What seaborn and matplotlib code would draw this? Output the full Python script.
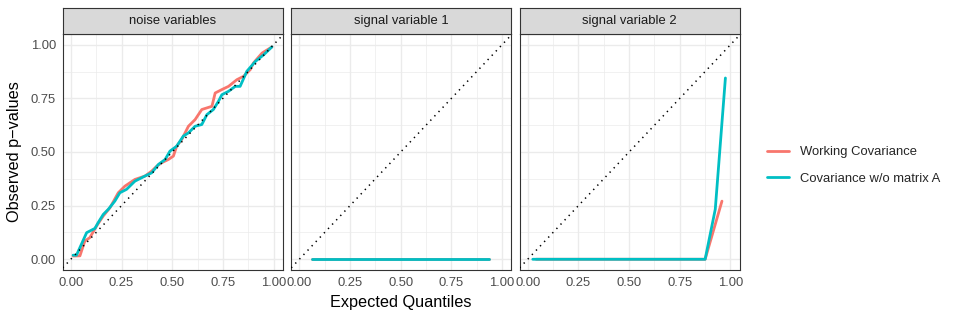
import matplotlib
matplotlib.use("Agg")
import matplotlib.pyplot as plt
from matplotlib.lines import Line2D
import seaborn as sns
import pandas as pd

# ---- data ----
panels = ["noise variables", "signal variable 1", "signal variable 2"]
methods = ["Working Covariance", "Covariance w/o matrix A"]
colors = ["#F8766D", "#00BFC4"]

noise_work_x = [0.011, 0.045, 0.069, 0.094, 0.127, 0.16, 0.193, 0.234, 0.267, 0.316, 0.366,
                0.399, 0.424, 0.448, 0.481, 0.506, 0.522, 0.547, 0.58, 0.613, 0.646, 0.696,
                0.712, 0.745, 0.778, 0.819, 0.852, 0.885, 0.901, 0.943, 0.992]
noise_work_y = [0.015, 0.016, 0.085, 0.101, 0.155, 0.202, 0.240, 0.310, 0.341, 0.372, 0.388,
                0.411, 0.434, 0.450, 0.465, 0.481, 0.527, 0.558, 0.620, 0.651, 0.698, 0.713,
                0.775, 0.791, 0.806, 0.837, 0.853, 0.884, 0.915, 0.961, 0.99]
noise_cov_x = [0.011, 0.028, 0.078, 0.119, 0.135, 0.16, 0.185, 0.217, 0.242, 0.275, 0.316,
               0.366, 0.399, 0.432, 0.465, 0.489, 0.522, 0.555, 0.58, 0.613, 0.646, 0.671,
               0.703, 0.728, 0.745, 0.778, 0.811, 0.835, 0.868, 0.91, 0.951, 0.992]
noise_cov_y = [0.019, 0.019, 0.124, 0.144, 0.171, 0.209, 0.233, 0.271, 0.310, 0.326, 0.364,
               0.388, 0.403, 0.442, 0.465, 0.504, 0.527, 0.574, 0.589, 0.620, 0.628, 0.674,
               0.698, 0.736, 0.767, 0.783, 0.806, 0.806, 0.876, 0.922, 0.953, 0.99]

sig1_x = [0.0625, 0.1875, 0.3125, 0.4375, 0.5625, 0.6875, 0.8125, 0.9375]
sig1_work_y = [0, 0, 0, 0, 0, 0, 0, 0]
sig1_cov_y = [0, 0, 0, 0, 0, 0, 0, 0]

sig2_work_x = [0.042, 0.875, 0.958]
sig2_work_y = [0, 0, 0.271]
sig2_cov_x = [0.025, 0.875, 0.925, 0.975]
sig2_cov_y = [0, 0, 0.233, 0.845]

ticks = [0, 0.25, 0.5, 0.75, 1.0]
tick_labels = ["0.00", "0.25", "0.50", "0.75", "1.00"]

rows = []
for panel, method, xs, ys in [
    (panels[0], methods[0], noise_work_x, noise_work_y),
    (panels[0], methods[1], noise_cov_x, noise_cov_y),
    (panels[1], methods[0], sig1_x, sig1_work_y),
    (panels[1], methods[1], sig1_x, sig1_cov_y),
    (panels[2], methods[0], sig2_work_x, sig2_work_y),
    (panels[2], methods[1], sig2_cov_x, sig2_cov_y),
]:
    for x, y in zip(xs, ys):
        rows.append({"panel": panel, "method": method, "expected": x, "observed": y})
df = pd.DataFrame(rows)

# ---- style ----
sns.set_style("white")
plt.rcParams["font.family"] = ["Liberation Sans", "DejaVu Sans"]

W, H = 959, 320
fig = plt.figure(figsize=(W / 100, H / 100), dpi=100)

lefts = [62.7, 291.2, 519.6]
pw = 220
top, bottom = 34, 270
strip_top = 8.3
small = 9.4

for i, panel in enumerate(panels):
    ax = fig.add_axes([lefts[i] / W, (H - bottom) / H, pw / W, (bottom - top) / H])
    ax.set_facecolor("white")
    sub = df[df["panel"] == panel]
    sns.lineplot(data=sub, x="expected", y="observed", hue="method", hue_order=methods,
                 palette=colors, estimator=None, sort=False, legend=False,
                 linewidth=2.0, ax=ax, zorder=3)
    ax.axline((0, 0), slope=1, color="black", linewidth=1.1,
              linestyle=(0, (0.9, 3.0)), zorder=4)
    ax.set_xlim(-0.04, 1.045)
    ax.set_ylim(-0.05, 1.05)
    ax.set_xticks(ticks)
    ax.set_xticklabels(tick_labels)
    ax.set_yticks(ticks)
    ax.set_xticks([0.125, 0.375, 0.625, 0.875], minor=True)
    ax.set_yticks([0.125, 0.375, 0.625, 0.875], minor=True)
    ax.grid(True, which="major", color="#EBEBEB", linewidth=1.0, zorder=0)
    ax.grid(True, which="minor", color="#EBEBEB", linewidth=0.5, zorder=0)
    ax.set_axisbelow(True)
    ax.tick_params(axis="both", which="minor", length=0)
    ax.tick_params(axis="both", which="major", length=2.75, width=0.7, color="#333333",
                   labelsize=small, labelcolor="#4D4D4D", pad=2.2)
    if i == 0:
        ax.set_yticklabels(tick_labels)
    else:
        ax.tick_params(axis="y", which="both", left=False, labelleft=False)
    ax.set_xlabel("")
    ax.set_ylabel("")
    for s in ax.spines.values():
        s.set_color("#333333")
        s.set_linewidth(0.8)

    sax = fig.add_axes([lefts[i] / W, (H - top) / H, pw / W, (top - strip_top) / H])
    sax.set_facecolor("#D9D9D9")
    sax.set_xticks([])
    sax.set_yticks([])
    for s in sax.spines.values():
        s.set_color("#333333")
        s.set_linewidth(0.8)
    sax.text(0.5, 0.5, panel, ha="center", va="center", fontsize=small,
             color="#1A1A1A", transform=sax.transAxes)

fig.text(401 / W, 1 - 302.7 / H, "Expected Quantiles", ha="center", va="center",
         fontsize=11.7, color="black")
fig.text(15 / W, 1 - 152 / H, "Observed p\u2212values", ha="center", va="center",
         rotation=90, fontsize=11.7, color="black")

handles = [Line2D([0], [0], color=c, linewidth=2.0) for c in colors]
fig.legend(handles, methods, loc="center left", bbox_to_anchor=(766.7 / W, 1 - 165.5 / H),
           frameon=False, fontsize=small, handlelength=1.7, handletextpad=0.85,
           labelspacing=1.1, borderpad=0, borderaxespad=0)

fig.savefig("out.png", dpi=100)
